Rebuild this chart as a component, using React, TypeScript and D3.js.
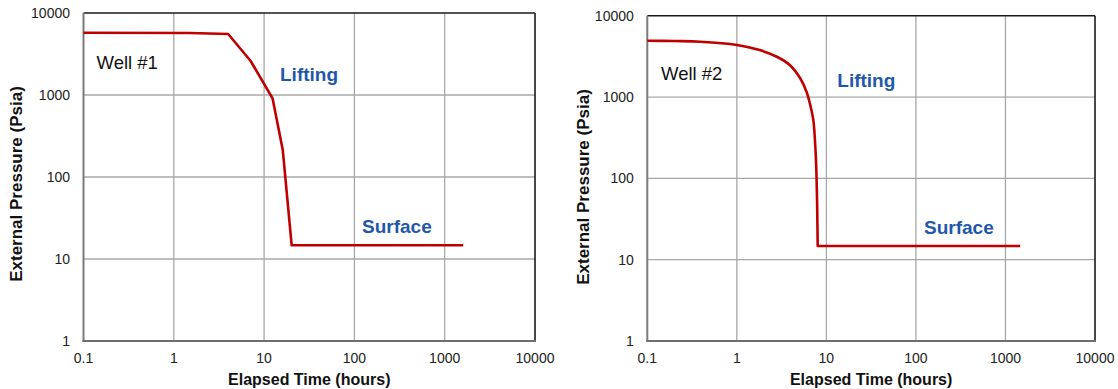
import React from 'react';
import * as d3 from 'd3';

// tick values shared by both panels
const timeTicks = [0.1, 1, 10, 100, 1000, 10000];
const timeTickLabels = ['0.1', '1', '10', '100', '1000', '10000'];
const pressureTicks = [1, 10, 100, 1000, 10000];
const pressureTickLabels = ['1', '10', '100', '1000', '10000'];

// Well #1 - elapsed time (hours) vs external pressure (psia)
const well1Time = [0.1, 1.5, 4.0, 7.1, 12.4, 16.1, 20.2, 1600];
const well1Pressure = [5750, 5700, 5550, 2600, 910, 213, 14.7, 14.7];

// Well #2
const well2Time = [0.1, 0.2, 0.39, 1, 1.8, 2.8, 3.9, 5.1, 6.0, 6.6, 7.15, 7.5, 7.7, 7.85, 7.95, 8.0, 1460];
const well2Pressure = [4930, 4880, 4790, 4370, 3780, 3130, 2480, 1700, 1160, 800, 520, 260, 140, 60, 25, 14.7, 14.7];

const FONT = '"Liberation Sans", Arial, sans-serif';
const RED = '#c00000';
const BLUE = '#1f58ab';

type PanelProps = {
  left: number; right: number; top: number; bottom: number;
  time: number[]; pressure: number[];
  smooth: boolean;
  wellLabel: string;
  wellPos: [number, number];
  liftPos: [number, number];
  surfPos: [number, number];
  yTitleX: number; yTitleY: number;
};

function Panel(props: PanelProps) {
  const { left, right, top, bottom, time, pressure, smooth } = props;

  const xScale = d3.scaleLog().domain([0.1, 10000]).range([left, right]);
  const yScale = d3.scaleLog().domain([1, 10000]).range([bottom, top]);

  const pts: [number, number][] = time.map((t, i) => [t, pressure[i]]);
  // smooth part of the curve, then a straight run along the surface value
  const bend = smooth ? pts.length - 1 : 0;
  const curve = d3.line<[number, number]>()
    .x(d => xScale(d[0]))
    .y(d => yScale(d[1]))
    .curve(smooth ? d3.curveCatmullRom.alpha(0.5) : d3.curveLinear);
  const straight = d3.line<[number, number]>()
    .x(d => xScale(d[0]))
    .y(d => yScale(d[1]));
  const d = smooth
    ? (curve(pts.slice(0, bend)) || '') + (straight(pts.slice(bend - 1)) || '').replace(/^M/, 'L')
    : (curve(pts) || '');

  return (
    <g>
      {/* gridlines */}
      {timeTicks.slice(1, -1).map(t => (
        <line key={'gx' + t} x1={xScale(t)} x2={xScale(t)} y1={top} y2={bottom}
          stroke="#a8a8a8" strokeWidth={1.3} />
      ))}
      {pressureTicks.slice(1, -1).map(p => (
        <line key={'gy' + p} x1={left} x2={right} y1={yScale(p)} y2={yScale(p)}
          stroke="#a8a8a8" strokeWidth={1.3} />
      ))}

      {/* frame: dark top / right, grey axes left / bottom */}
      <line x1={left} x2={right} y1={top} y2={top} stroke="#1a1a1a" strokeWidth={1.6} />
      <line x1={right} x2={right} y1={top} y2={bottom} stroke="#1a1a1a" strokeWidth={1.6} />
      <line x1={left} x2={left} y1={top} y2={bottom + 1} stroke="#7a7a7a" strokeWidth={2} />
      <line x1={left - 1} x2={right + 1} y1={bottom} y2={bottom} stroke="#6e6e6e" strokeWidth={2} />

      {/* data */}
      <path d={d} fill="none" stroke={RED} strokeWidth={2.6} strokeLinejoin="round" />

      {/* tick labels */}
      {timeTicks.map((t, i) => (
        <text key={'tx' + t} x={xScale(t)} y={bottom + 22} textAnchor="middle"
          fontFamily={FONT} fontSize={14} fill="#222">{timeTickLabels[i]}</text>
      ))}
      {pressureTicks.map((p, i) => (
        <text key={'ty' + p} x={left - 13.5} y={yScale(p)} dy="0.35em" textAnchor="end"
          fontFamily={FONT} fontSize={14} fill="#222">{pressureTickLabels[i]}</text>
      ))}

      {/* axis titles */}
      <text x={(left + right) / 2} y={bottom + 43.5} textAnchor="middle"
        fontFamily={FONT} fontSize={16} fontWeight="bold" fill="#111">Elapsed Time (hours)</text>
      <text transform={`translate(${props.yTitleX}, ${props.yTitleY}) rotate(-90)`} textAnchor="middle"
        fontFamily={FONT} fontSize={17} fontWeight="bold" fill="#111">External Pressure (Psia)</text>

      {/* annotations */}
      <text x={props.wellPos[0]} y={props.wellPos[1]} fontFamily={FONT} fontSize={18.5} fill="#111">{props.wellLabel}</text>
      <text x={props.liftPos[0]} y={props.liftPos[1]} fontFamily={FONT} fontSize={19} fontWeight="bold" fill={BLUE}>Lifting</text>
      <text x={props.surfPos[0]} y={props.surfPos[1]} fontFamily={FONT} fontSize={19} fontWeight="bold" fill={BLUE}>Surface</text>
    </g>
  );
}

export default function App() {
  return (
    <svg width={1118} height={389} style={{ position: 'absolute', left: 0, top: 0, background: '#fff' }}>
      <Panel left={83.5} right={535} top={13} bottom={341}
        time={well1Time} pressure={well1Pressure} smooth={false}
        wellLabel="Well #1" wellPos={[96.5, 69]} liftPos={[280, 81]} surfPos={[362, 233]}
        yTitleX={22} yTitleY={184} />
      <Panel left={647.3} right={1095} top={15.7} bottom={341}
        time={well2Time} pressure={well2Pressure} smooth={true}
        wellLabel="Well #2" wellPos={[661, 80]} liftPos={[837.3, 87]} surfPos={[924, 234]}
        yTitleX={589} yTitleY={187} />
    </svg>
  );
}
